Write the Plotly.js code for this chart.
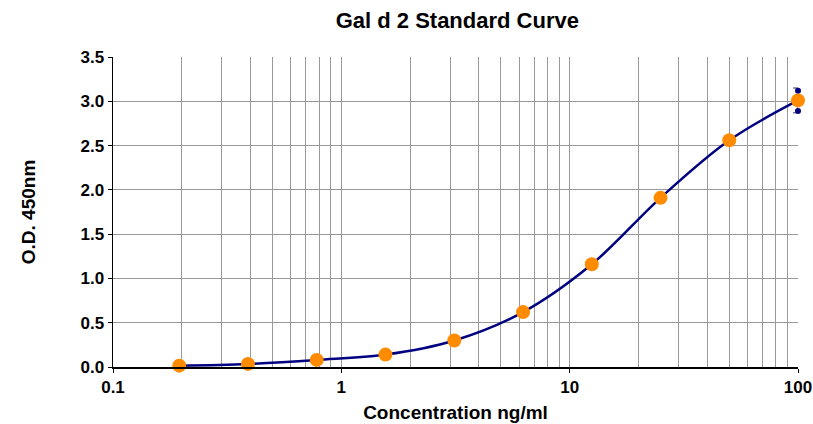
<!DOCTYPE html>
<html>
<head>
<meta charset="utf-8">
<script src="https://cdn.plot.ly/plotly-3.0.1.min.js"></script>
<style>html,body{margin:0;padding:0;background:#fff;}#chart{width:813px;height:424px;}</style>
</head>
<body>
<div id="chart"></div>
<script>
var concentration = [0.195, 0.39, 0.78, 1.56, 3.125, 6.25, 12.5, 25, 50, 100];
var od450 = [0.015, 0.035, 0.08, 0.14, 0.30, 0.62, 1.16, 1.91, 2.56, 3.01];
var odError = [0, 0, 0, 0, 0, 0, 0, 0, 0, 0.14];
var replicateX = [100, 100];
var replicateY = [3.12, 2.89];
var xTickVals = [0.1, 1, 10, 100];
var xTickText = ['0.1', '1', '10', '100'];

var fontFam = 'Liberation Sans, Arial, sans-serif';

var curve = {
  x: concentration, y: od450, type: 'scatter', mode: 'lines',
  line: {color: '#000080', width: 2.5, shape: 'spline', smoothing: 1},
  cliponaxis: false
};
var errDots = {
  x: concentration, y: od450, type: 'scatter', mode: 'markers',
  marker: {color: 'rgba(0,0,0,0)', size: 1},
  error_y: {type: 'data', array: odError, visible: true, color: '#333366', thickness: 1, width: 5},
  cliponaxis: false
};
var replicates = {
  x: replicateX, y: replicateY, type: 'scatter', mode: 'markers',
  marker: {color: '#000080', size: 6},
  cliponaxis: false
};
var points = {
  x: concentration, y: od450, type: 'scatter', mode: 'markers',
  marker: {color: '#FF8C00', size: 14, line: {width: 0}},
  cliponaxis: false
};

var layout = {
  width: 813, height: 424,
  margin: {l: 113, r: 15, t: 57, b: 57},
  paper_bgcolor: '#fff', plot_bgcolor: '#fff',
  showlegend: false,
  title: {text: 'Gal d 2 Standard Curve', x: 0.5625, xanchor: 'center', y: 0.952, yanchor: 'middle',
          font: {family: fontFam, size: 22, color: '#000', weight: 'bold'}},
  xaxis: {
    type: 'log', range: [-1, 2],
    tickvals: xTickVals, ticktext: xTickText,
    ticks: 'outside', ticklen: 4, tickcolor: '#000',
    ticklabeloverflow: 'allow',
    showgrid: true, gridcolor: '#9a9a9a', gridwidth: 1,
    minor: {dtick: 'D1', showgrid: true, gridcolor: '#9a9a9a', gridwidth: 1, ticks: ''},
    showline: true, linecolor: '#000', linewidth: 1.5,
    zeroline: false,
    tickfont: {family: fontFam, size: 17, color: '#000', weight: 'bold'},
    title: {text: 'Concentration ng/ml', standoff: 10, font: {family: fontFam, size: 19, color: '#000', weight: 'bold'}}
  },
  yaxis: {
    range: [0, 3.5], dtick: 0.5, tickformat: '.1f',
    ticks: 'outside', ticklen: 4, tickcolor: '#000',
    ticklabeloverflow: 'allow',
    showgrid: true, gridcolor: '#9a9a9a', gridwidth: 1,
    showline: true, linecolor: '#000', linewidth: 1.5,
    zeroline: false,
    tickfont: {family: fontFam, size: 17, color: '#000', weight: 'bold'},
    title: {text: 'O.D. 450nm', standoff: 40, font: {family: fontFam, size: 19, color: '#000', weight: 'bold'}}
  }
};

Plotly.newPlot('chart', [curve, errDots, replicates, points], layout, {displayModeBar: false, staticPlot: true});
</script>
</body>
</html>
